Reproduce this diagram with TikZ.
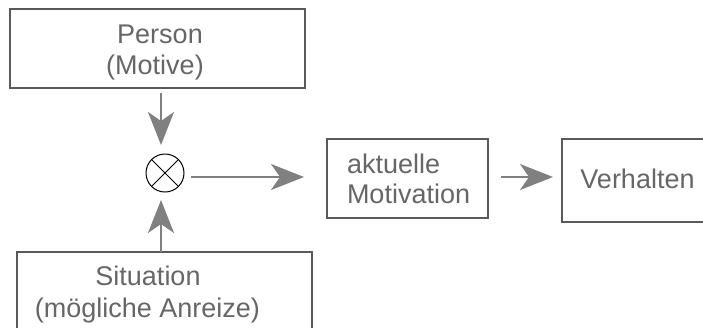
\documentclass[tikz,border=0pt]{standalone}
\usepackage{fontspec}
\setmainfont{Liberation Sans}
\usetikzlibrary{arrows.meta}
\definecolor{boxgray}{HTML}{5A5A5A}
\definecolor{txtgray}{HTML}{666666}
\definecolor{arrgray}{HTML}{808080}
\tikzset{
  box/.style={draw=boxgray, line width=1.3pt, inner sep=0pt, outer sep=0pt, rectangle},
  lbl/.style={text=txtgray, font=\fontsize{27}{32}\selectfont, inner sep=0pt, outer sep=0pt},
  arr/.style={draw=arrgray, line width=2.2pt, -{Stealth[length=33pt,width=26pt,inset=9pt,fill=arrgray]}},
  mult/.style={circle, draw=black, line width=1pt, minimum size=38pt, inner sep=0pt, outer sep=0pt}
}
\begin{document}
\begin{tikzpicture}[x=1pt,y=-1pt]
\useasboundingbox (0,0) rectangle (703,327);
\clip (0,0) rectangle (703,327);
% boxes
\node[box, minimum width=295pt, minimum height=79pt] (person) at (157.5,48.5) {};
\node[box, minimum width=161pt, minimum height=79pt] (motiv) at (407.5,178.5) {};
\node[box, minimum width=198pt, minimum height=83pt] (verh) at (661,180.5) {};
\node[box, minimum width=295pt, minimum height=88pt] (sit) at (164.5,296) {};
% texts
\node[lbl, anchor=base] (tperson) at (160,43) {Person};
\node[lbl, anchor=base] (tmotive) at (155,74) {(Motive)};
\node[lbl, anchor=base west] (takt) at (347,173) {aktuelle};
\node[lbl, anchor=base west] (tmot) at (347,203) {Motivation};
\node[lbl, anchor=base] (tverh) at (637.5,188) {Verhalten};
\node[lbl, anchor=base] (tsit) at (148,285) {Situation};
\node[lbl, anchor=base] (tanr) at (147.5,317) {(mögliche Anreize)};
% multiplication node
\node[mult] (cross) at (165,173) {};
\draw[black, line width=1pt] (cross.north east) -- (cross.south west)
      (cross.north west) -- (cross.south east);
% helper coordinates
\coordinate (ax) at (161,0);
\coordinate (hy) at (0,177);
% connectors
\draw[arr, shorten <=5pt, shorten >=9pt] (person.south -| ax) -- (cross.north -| ax);
\draw[arr, shorten >=8pt] (sit.north -| ax) -- (cross.south -| ax);
\draw[arr, shorten <=7pt, shorten >=23pt] (cross.east |- hy) -- (motiv.west |- hy);
\draw[arr, shorten <=13pt, shorten >=9pt] (motiv.east |- hy) -- (verh.west |- hy);
\end{tikzpicture}
\end{document}
